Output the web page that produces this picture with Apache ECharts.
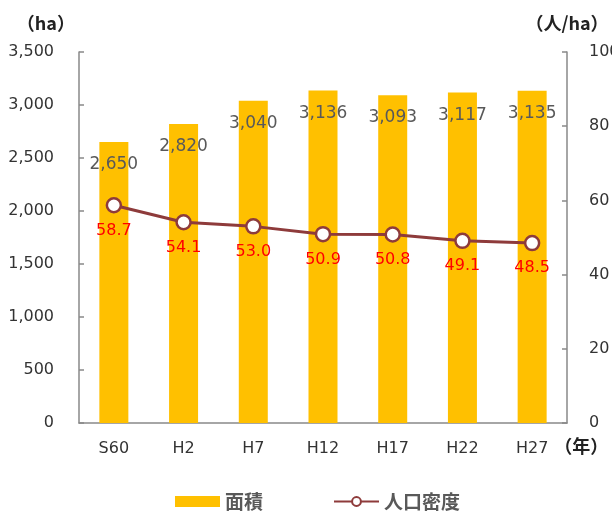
<!DOCTYPE html>
<html>
<head>
<meta charset="utf-8">
<script src="https://cdn.jsdelivr.net/npm/echarts@6/dist/echarts.min.js"></script>
<style>
  html, body { margin: 0; padding: 0; background: #fff; }
  #chart { width: 612px; height: 512px; }
</style>
</head>
<body>
<div id="chart"></div>
<script>
// Survey years (Showa 60 through Heisei 27)
const years = ['S60', 'H2', 'H7', 'H12', 'H17', 'H22', 'H27'];
// Area (ha)
const area = [2650, 2820, 3040, 3136, 3093, 3117, 3135];
// Population density (persons per ha)
const density = [58.7, 54.1, 53.0, 50.9, 50.8, 49.1, 48.5];

const NUM_FONT = '"DejaVu Sans", "Noto Sans", sans-serif';
const JP_FONT = '"Noto Sans CJK JP", "Noto Sans", sans-serif';
const GRAY = '#595959';
const AXIS = '#898989';

const chart = echarts.init(document.getElementById('chart'));
chart.setOption({
  animation: false,
  textStyle: { fontFamily: NUM_FONT },
  grid: { left: 79, right: 45, top: 52, bottom: 89, outerBoundsMode: 'none', containLabel: false },
  legend: {
    top: 487,
    left: 170,
    itemGap: 70,
    itemWidth: 45,
    itemHeight: 11,
    textStyle: { fontSize: 19, color: GRAY, fontWeight: 'bold', fontFamily: JP_FONT },
    data: [
      { name: '面積', icon: 'rect' },
      { name: '人口密度' }
    ]
  },
  xAxis: {
    type: 'category',
    data: years,
    name: '（年）',
    nameLocation: 'end',
    nameGap: -17,
    nameTextStyle: {
      fontSize: 18, color: '#222', fontWeight: 'bold', fontFamily: JP_FONT,
      verticalAlign: 'top', padding: [14, 0, 0, 0]
    },
    axisLine: { lineStyle: { color: AXIS, width: 1.5 } },
    axisTick: { show: false },
    axisLabel: { fontSize: 16, color: '#333', margin: 18 }
  },
  yAxis: [
    {
      type: 'value',
      min: 0, max: 3500, interval: 500,
      name: '（ha）',
      nameLocation: 'end',
      nameGap: 20,
      nameTextStyle: {
        fontSize: 18, color: '#222', fontWeight: 'bold', fontFamily: JP_FONT,
        align: 'right', padding: [0, 4, 0, 0]
      },
      axisLine: { show: true, lineStyle: { color: AXIS, width: 1.5 } },
      axisTick: { show: true, inside: true, length: 5, lineStyle: { color: AXIS, width: 1.5 } },
      splitLine: { show: false },
      axisLabel: {
        fontSize: 16, color: '#333', margin: 25,
        formatter: v => v.toLocaleString('en-US')
      }
    },
    {
      type: 'value',
      min: 0, max: 100, interval: 20,
      name: '（人/ha）',
      nameLocation: 'end',
      nameGap: 20,
      nameTextStyle: {
        fontSize: 18, color: '#222', fontWeight: 'bold', fontFamily: JP_FONT,
        align: 'center'
      },
      axisLine: { show: true, lineStyle: { color: AXIS, width: 1.5 } },
      axisTick: { show: true, inside: true, length: 5, lineStyle: { color: AXIS, width: 1.5 } },
      splitLine: { show: false },
      axisLabel: { fontSize: 16, color: '#333', margin: 22, align: 'left' }
    }
  ],
  series: [
    {
      name: '面積',
      type: 'bar',
      yAxisIndex: 0,
      data: area,
      barWidth: 29,
      itemStyle: { color: '#FFC000' },
      label: {
        show: true,
        position: 'insideTop',
        distance: 14,
        fontSize: 17,
        color: GRAY,
        formatter: p => p.value.toLocaleString('en-US')
      }
    },
    {
      name: '人口密度',
      type: 'line',
      yAxisIndex: 1,
      data: density,
      symbol: 'circle',
      symbolSize: 14,
      lineStyle: { color: '#8E3B3B', width: 3 },
      itemStyle: { color: '#fff', borderColor: '#8E3B3B', borderWidth: 2.5 },
      label: {
        show: true,
        position: 'bottom',
        distance: 9,
        fontSize: 16,
        color: '#FF0000',
        formatter: p => p.value.toFixed(1)
      },
      z: 5
    }
  ]
});
</script>
</body>
</html>
